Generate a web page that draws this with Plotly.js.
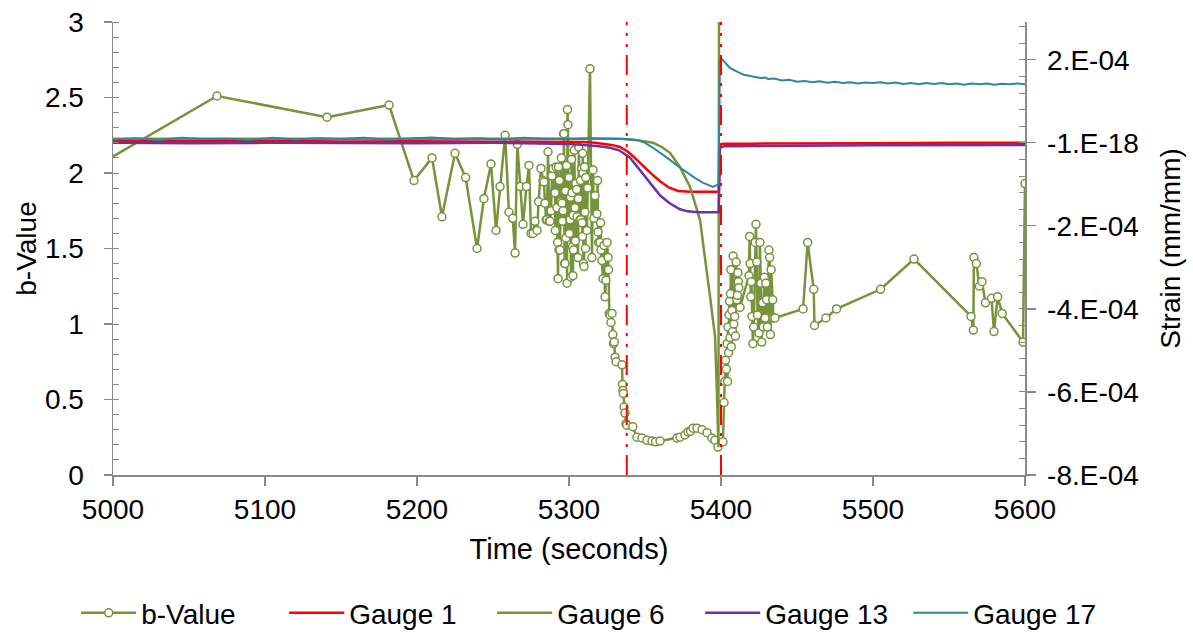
<!DOCTYPE html>
<html><head><meta charset="utf-8">
<script src="https://cdn.plot.ly/plotly-3.0.1.min.js"></script>
<style>html,body{margin:0;padding:0;background:#fff}#chart{width:1193px;height:638px}</style>
</head><body><div id="chart"></div>
<script>
// b-Value series (primary axis)
const bTime = [4995,5068.4,5140.8,5181.6,5198,5209.9,5216.4,5225,5232,5239.5,5244,5248.7,5252,5254.6,5258,5260.5,5263,5264.5,5266,5268,5269.7,5272,5273.7,5275,5276.3,5277.6,5279,5280,5281.6,
5282.9,5283.5,5284.2,5285.0,5285.5,5286.2,5287.0,5287.5,5288.2,5288.8,5289.5,5290.2,5290.8,5291.0,5291.5,5292.1,5292.5,5292.8,5293.1,5293.4,5293.7,5294.1,5294.4,5294.7,5295.0,5295.4,5295.7,5296.1,5296.4,5296.7,5297.1,5297.4,5297.7,5298.0,5298.4,5298.7,5299.0,5299.3,5299.6,5300.0,5300.2,5300.4,5300.7,5301.0,5301.3,5301.7,5302.0,5302.3,5302.6,5302.8,5303.0,5303.5,5303.9,5304.2,5304.5,5305.0,5305.3,5305.9,5306.2,5306.5,5307.2,5307.5,5307.8,5308.3,5308.6,5308.9,5309.0,5309.2,5309.5,5309.9,5310.2,5310.5,5310.8,5311.0,5311.8,5312.3,5313.8,5315.1,5315.8,5316.4,5317.1,5318.4,5318.8,5319.1,5319.5,5320.4,5320.8,5321.0,5321.7,5322.4,5323.0,5323.7,5324.3,5325.0,5325.7,5326.0,5326.5,5327.0,5327.6,5328.3,5328.8,5329.3,5329.8,5330.3,5331.0,5334.9,5335.2,5335.5,5335.8,5336.2,5336.8,5337.5,5338.0,5342.0,5344.7,5348.0,5351.3,5354.6,5357.0,5359.9,5371.0,5373.0,5376.3,5378.3,5380.0,5381.6,5384.2,5387.5,5390.8,5394.0,5396.0,5398.0,5401.3,
5402.0,5402.5,5403.0,5403.5,5404.0,5404.3,5404.6,5405.0,5405.3,5405.6,5405.9,5406.2,5406.5,5406.8,5407.2,5407.6,5408.0,5408.4,5409.0,5409.5,5410.0,5410.4,5410.8,5411.1,5411.4,5411.7,5412.5,
5418.4,5418.8,5419.2,5419.6,5420.0,5420.4,5421.0,5421.5,5422.5,5423.0,5423.5,5424.0,5425.0,5425.6,5426.2,5426.8,5427.3,5427.8,5428.5,5429.0,5429.5,5430.0,5430.5,5431.5,5432.0,5432.5,5433.0,5434.0,5434.5,5435.5,
5454,5457,5461,5461.5,5469,5476,5505,5527,5564.5,5566,5566.4,5568,5570,5571.7,5574,5578,5579.6,5582,5585,5598.7,5600];
const bValue = [2.08,2.51,2.37,2.45,1.95,2.10,1.71,2.13,1.97,1.50,1.83,2.06,1.62,1.91,2.25,1.74,1.70,1.47,2.19,1.91,1.66,1.91,2.05,1.60,1.60,1.68,1.62,1.81,2.03,
1.95,1.94,1.80,1.69,1.69,2.14,1.68,1.68,1.75,1.98,2.03,1.87,1.87,1.62,2.04,1.77,1.54,1.30,2.04,1.49,1.95,1.49,1.81,1.81,2.10,1.80,1.68,1.75,2.26,2.26,1.40,1.40,1.88,1.57,2.05,1.27,2.42,2.32,1.97,1.97,1.60,1.69,1.69,1.84,1.31,2.09,1.87,1.51,1.32,1.72,1.49,2.15,1.77,1.55,1.93,1.89,1.71,1.44,1.83,2.17,1.69,1.95,1.69,2.03,1.67,1.58,2.13,2.00,1.40,1.38,2.04,1.74,1.50,1.97,1.62,1.90,2.69,1.44,2.02,1.70,1.85,1.73,1.95,1.61,1.54,1.54,1.67,1.49,1.42,1.30,1.52,1.18,1.29,1.54,1.44,1.36,1.07,1.06,1.01,1.07,0.93,0.87,0.88,0.78,0.75,0.73,0.60,0.56,0.54,0.45,0.41,0.34,0.33,0.32,0.25,0.245,0.23,0.225,0.22,0.225,0.245,0.25,0.265,0.285,0.29,0.31,0.31,0.30,0.28,0.245,0.23,0.185,0.22,
0.48,0.62,0.76,0.70,0.87,0.62,0.98,0.81,1.06,1.15,0.91,1.20,1.36,0.85,1.09,0.95,1.45,1.00,1.05,0.92,1.41,1.16,1.19,1.34,1.28,1.24,1.11,
1.32,1.58,1.40,1.18,1.28,1.05,0.87,0.98,1.54,1.66,1.41,1.06,0.94,1.54,1.27,0.88,1.14,0.98,1.31,1.04,1.27,1.16,0.98,1.49,1.44,0.93,1.36,1.16,1.04,1.04,
1.10,1.54,1.23,0.99,1.04,1.10,1.23,1.43,1.05,0.96,1.44,1.40,1.25,1.28,1.14,1.17,0.95,1.18,1.07,0.88,1.93];

// Strain series (secondary axis), values in units of 1E-04 mm/mm
const g1Time = [5000,5050,5100,5150,5200,5250,5300,5310,5317,5322,5328,5333.5,5339,5344.7,5350,5355,5360,5366,5371.7,5380,5390,5398.5,5399.3,5401,5420,5450,5500,5550,5600];
const g1Strain = [0.05,0.04,0.05,0.03,0.04,0.03,0.03,0.02,0.0,-0.02,-0.05,-0.1,-0.22,-0.41,-0.6,-0.77,-0.93,-1.08,-1.16,-1.18,-1.18,-1.18,-0.04,-0.02,-0.02,-0.01,-0.01,0.0,0.0];

const g6Time = [5000,5100,5200,5300,5320,5333.6,5345,5355.3,5361,5366.4,5373,5379.6,5386.2,5390.8,5392.8,5394.5,5396.1,5397.3,5398.3,5398.8,5400,5500,5600];
const g6Strain = [0.1,0.1,0.1,0.1,0.1,0.1,0.06,0.0,-0.1,-0.24,-0.58,-1.06,-1.86,-3.06,-3.71,-4.2,-4.67,-6.0,-7.33,6.0,6.0,6.0,6.0];

const g13Time = [5000,5050,5100,5150,5200,5250,5290,5300,5310,5320,5327,5333,5340,5345,5350,5355,5360,5366,5373,5378,5385,5398.5,5399.3,5402,5420,5450,5500,5550,5600];
const g13Strain = [0.0,-0.01,0.0,-0.01,-0.01,0.0,-0.02,-0.03,-0.05,-0.08,-0.12,-0.18,-0.35,-0.58,-0.83,-1.06,-1.27,-1.45,-1.6,-1.65,-1.67,-1.67,-0.12,-0.08,-0.07,-0.07,-0.06,-0.06,-0.05];

const g17Time = [5000,5015,5030,5045,5060,5075,5090,5105,5120,5135,5150,5165,5180,5195,5210,5225,5240,5255,5270,5285,5300,5315,5330,5337,5344.7,5350,5355.3,5361,5366.4,5372,5377.6,5383,5388,5392,5394.7,5398.3,
5399.3,5400.5,5402,5404,5406,5408,5410,5412,5415,5418,5420,5423,5426,5429,5431,5435,5440,5445,5450,5455,5460,5465,5470,5475,5480,5485,5490,5495,5500,5505,5510,5515,5520,5525,5530,5535,5540,5545,5550,5555,5560,5565,5570,5575,5580,5585,5590,5595,5600];
const g17Strain = [0.08,0.11,0.07,0.12,0.09,0.1,0.07,0.12,0.08,0.11,0.09,0.12,0.08,0.1,0.13,0.09,0.11,0.08,0.12,0.1,0.09,0.11,0.1,0.09,0.07,0.0,-0.12,-0.26,-0.41,-0.57,-0.72,-0.85,-0.96,-1.03,-1.06,-1.0,
2.0,2.02,1.95,1.88,1.80,1.76,1.71,1.69,1.64,1.62,1.59,1.58,1.56,1.57,1.54,1.55,1.50,1.52,1.47,1.49,1.46,1.48,1.45,1.47,1.44,1.46,1.43,1.45,1.44,1.46,1.43,1.45,1.42,1.44,1.41,1.44,1.42,1.44,1.41,1.43,1.40,1.43,1.41,1.43,1.40,1.42,1.41,1.43,1.41];

const eventTimes = [5338, 5400];
const strainTickVals = [-8,-6,-4,-2,0,2];
const strainTickText = ['-8.E-04','-6.E-04','-4.E-04','-2.E-04','-1.E-18','2.E-04'];

const GREEN = '#77933C', RED = '#FF0000', PURPLE = '#7030A0', TEAL = '#31859C', AXIS = '#898989';

const traces = [
  {x:bTime, y:bValue, name:'b-Value', type:'scatter', mode:'lines+markers', yaxis:'y',
   line:{color:GREEN, width:2.5}, marker:{symbol:'circle', size:8, color:'#ffffff', line:{color:GREEN, width:1.5}}},
  {x:g1Time, y:g1Strain, name:'Gauge 1', type:'scatter', mode:'lines', yaxis:'y2', line:{color:RED, width:2.5}},
  {x:g6Time, y:g6Strain, name:'Gauge 6', type:'scatter', mode:'lines', yaxis:'y2', line:{color:GREEN, width:2.5}},
  {x:g13Time, y:g13Strain, name:'Gauge 13', type:'scatter', mode:'lines', yaxis:'y2', line:{color:PURPLE, width:2.5}},
  {x:g17Time, y:g17Strain, name:'Gauge 17', type:'scatter', mode:'lines', yaxis:'y2', line:{color:TEAL, width:2}}
];

const shapes = eventTimes.map(t => ({type:'line', xref:'x', yref:'paper', x0:t, x1:t, y0:0, y1:1,
  line:{color:RED, width:2, dash:'20px,8px,3px,8px,3px,8px'}, layer:'above'}));

const layout = {
  width:1193, height:638,
  margin:{l:113, r:168, t:22, b:163, autoexpand:false},
  paper_bgcolor:'#ffffff', plot_bgcolor:'#ffffff',
  font:{family:'"Liberation Sans", Arial, sans-serif', size:28, color:'#000000'},
  showlegend:true,
  legend:{orientation:'h', xref:'paper', yref:'paper', x:1.1, xanchor:'right', y:-0.305, yanchor:'middle',
    font:{size:28}, entrywidth:138, entrywidthmode:'pixels', itemwidth:55, bgcolor:'rgba(0,0,0,0)'},
  xaxis:{range:[5000,5600], tickmode:'linear', tick0:5000, dtick:100, ticks:'outside', ticklen:9, tickwidth:1.2, tickcolor:AXIS,
    showline:true, linecolor:AXIS, linewidth:1.5, showgrid:false, zeroline:false, ticklabelstandoff:0,
    title:{text:'Time (seconds)', font:{size:29}, standoff:14}},
  yaxis:{range:[0,3], tickmode:'linear', tick0:0, dtick:0.5, ticks:'outside', ticklen:8, tickwidth:1.2, tickcolor:AXIS,
    showline:true, linecolor:AXIS, linewidth:1.5, showgrid:false, zeroline:false, ticklabelstandoff:14,
    minor:{tickmode:'linear', tick0:0, dtick:0.1, ticks:'inside', ticklen:6, tickwidth:1, tickcolor:AXIS, showgrid:false},
    title:{text:'b-Value', font:{size:28}, standoff:0}},
  yaxis2:{overlaying:'y', side:'right', anchor:'x', range:[-8,2.91], tickmode:'array', tickvals:strainTickVals, ticktext:strainTickText,
    ticks:'outside', ticklen:9, tickwidth:1.2, tickcolor:AXIS, showline:true, linecolor:AXIS, linewidth:1.5,
    showgrid:false, zeroline:false, ticklabelstandoff:6,
    minor:{tickmode:'linear', tick0:0, dtick:0.4, ticks:'inside', ticklen:6, tickwidth:1, tickcolor:AXIS, showgrid:false},
    title:{text:'Strain (mm/mm)', font:{size:28}, standoff:22}},
  shapes:shapes
};

Plotly.newPlot('chart', traces, layout, {displayModeBar:false, staticPlot:true});
</script></body></html>
